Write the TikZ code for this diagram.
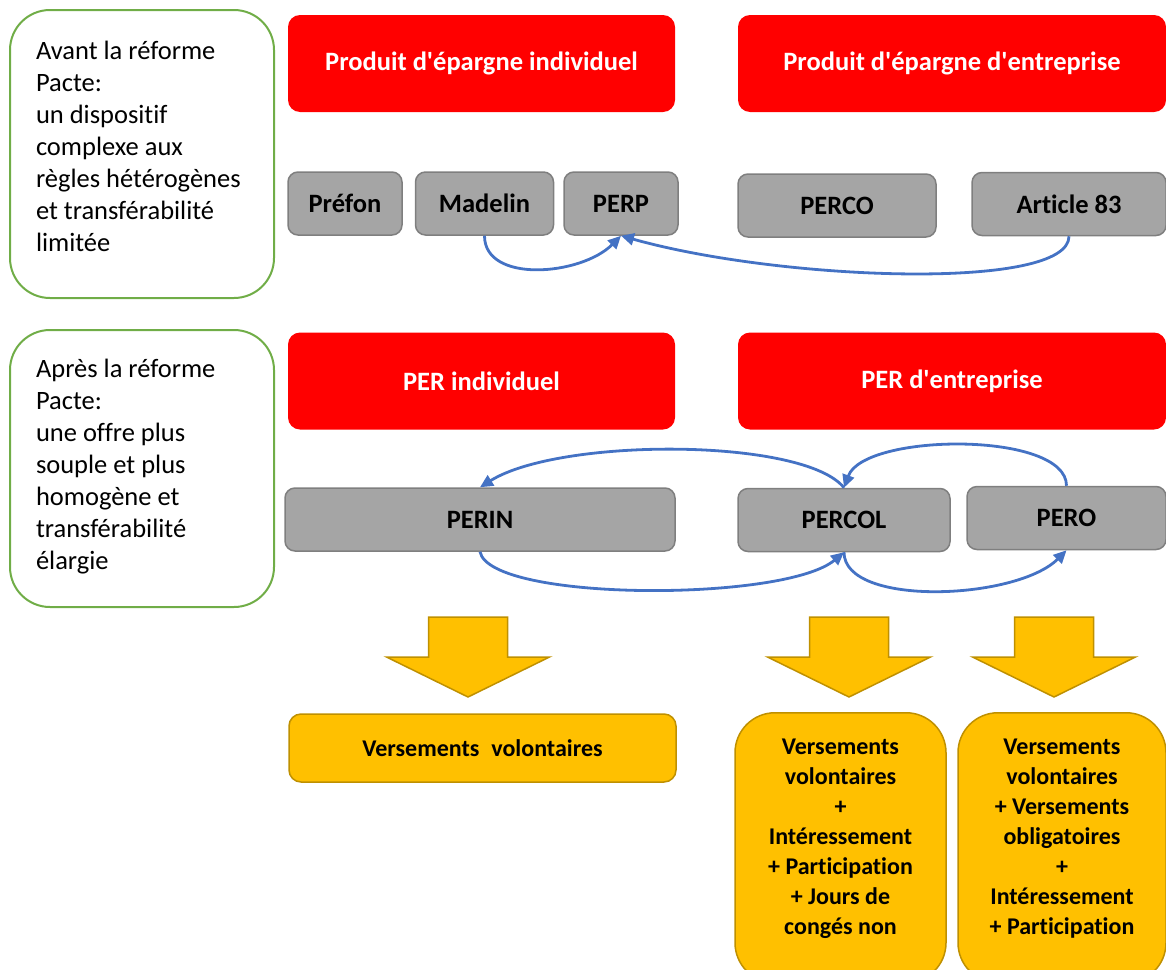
\documentclass[tikz,border=0pt]{standalone}
\usepackage{fontspec}
\setmainfont{Carlito}[Ligatures={NoCommon,TeXOff}]
\usepackage{tikz}
\usetikzlibrary{positioning, arrows.meta, calc}
\definecolor{pactered}{RGB}{255,0,0}
\definecolor{pactegray}{RGB}{165,165,165}
\definecolor{pactegrayline}{RGB}{127,127,127}
\definecolor{pacteyellow}{RGB}{255,192,0}
\definecolor{pacteyellowline}{RGB}{191,144,0}
\definecolor{pactegreen}{RGB}{112,173,71}
\definecolor{pacteblue}{RGB}{68,114,196}

\begin{document}
\begin{tikzpicture}[x=1pt, y=-1pt, font=\fontsize{26.5}{32}\selectfont,
note/.style={rectangle, rounded corners=40pt, draw=pactegreen, line width=2pt,
minimum width=264pt, minimum height=288pt, text width=212pt, inner xsep=26pt, align=flush left},
title/.style={rectangle, rounded corners=12pt, fill=pactered, text=white,
font=\fontsize{26.5}{30}\selectfont\bfseries, minimum height=97pt},
plan/.style={rectangle, rounded corners=10pt, fill=pactegray, draw=pactegrayline,
line width=1.5pt, font=\fontsize{26.5}{30}\selectfont\bfseries, minimum height=63pt},
payout/.style={rectangle, rounded corners=#1, fill=pacteyellow, draw=pacteyellowline,
line width=1.5pt, font=\fontsize{24}{30}\selectfont\bfseries, align=center},
transfer/.style={-{Triangle[length=13pt,width=12pt]}, line width=2.8pt, draw=pacteblue},
downarrow/.style={fill=pacteyellow, draw=pacteyellowline, line width=1.5pt}
]
\useasboundingbox (0,0) rectangle (1166,969);
\clip (0,0) rectangle (1166,969);

% Before the reform
\node[note] (avant) at (142,154)
{Avant la réforme\\Pacte:\\un dispositif\\complexe aux\\règles hétérogènes\\et transférabilité\\limitée\\[-16pt]~};

\node[title, minimum width=387pt] (epind) at (481.5,63.5) {Produit d'épargne individuel};
\node[title, minimum width=428pt] (epent) at (952,63.5) {Produit d'épargne d'entreprise};

\node[plan, minimum width=114pt] (prefon) at (345,203.5) {Préfon};
\node[plan, minimum width=138pt, right=12pt of prefon] (madelin) {Madelin};
\node[plan, minimum width=114pt, right=9pt of madelin] (perp) {PERP};
\node[plan, minimum width=198pt] (perco) at (837,205.5) {PERCO};
\node[plan, minimum width=194pt] (art83) at (1069,204) {Article 83};

\draw[transfer] (madelin.south) .. controls +(0,48) and +(-40,40) .. (perp.south);
\draw[transfer] (art83.south) .. controls +(0,55) and +(160,45) .. (perp.south);

% After the reform
\node[note, minimum height=277pt] (apres) at (142,468.5)
{Après la réforme\\Pacte:\\une offre plus\\souple et plus\\homogène et\\transférabilité\\élargie\\[-23pt]~};

\node[title, minimum width=387pt] (perind) at (481.5,381) {PER individuel};
\node[title, minimum width=428pt] (perent) at (952,381) {PER d'entreprise};

\node[plan, minimum width=390pt] (perin) at (480,519.5) {PERIN};
\node[plan, minimum width=212pt] (percol) at (844,520) {PERCOL};
\node[plan, minimum width=199pt] (pero) at (1066.5,518) {PERO};

\draw[transfer] (percol.north) .. controls +(-40,-50) and +(80,-50) .. (perin.north);
\draw[transfer] (pero.north) .. controls +(0,-55) and +(20,-55) .. (percol.north);
\draw[transfer] (perin.south) .. controls +(10,50) and +(-60,50) .. (percol.south);
\draw[transfer] (percol.south) .. controls +(0,55) and +(-50,50) .. (pero.south);

% Contributions
\foreach \ax in {468,849,1054}
  \draw[downarrow] (\ax,617) ++(-39.5,0) -- ++(79,0) -- ++(0,40) -- ++(42,0)
    -- ++(-81.5,40) -- ++(-81.5,-40) -- ++(42,0) -- cycle;

\node[payout=12pt, minimum width=387pt, minimum height=68pt] (vvind) at (482.5,748)
{Versements\enspace volontaires};
\node[payout=40pt, minimum width=211pt, minimum height=270pt, anchor=north] (vvcol) at (840.5,712)
{Versements\\volontaires\\+\\Intéressement\\+ Participation\\+ Jours de\\congés non\\[-8pt]~};
\node[payout=40pt, minimum width=208pt, minimum height=270pt, anchor=north] (vvpero) at (1062,712)
{Versements\\volontaires\\+ Versements\\obligatoires\\+\\Intéressement\\+ Participation\\[-8pt]~};

\end{tikzpicture}
\end{document}
